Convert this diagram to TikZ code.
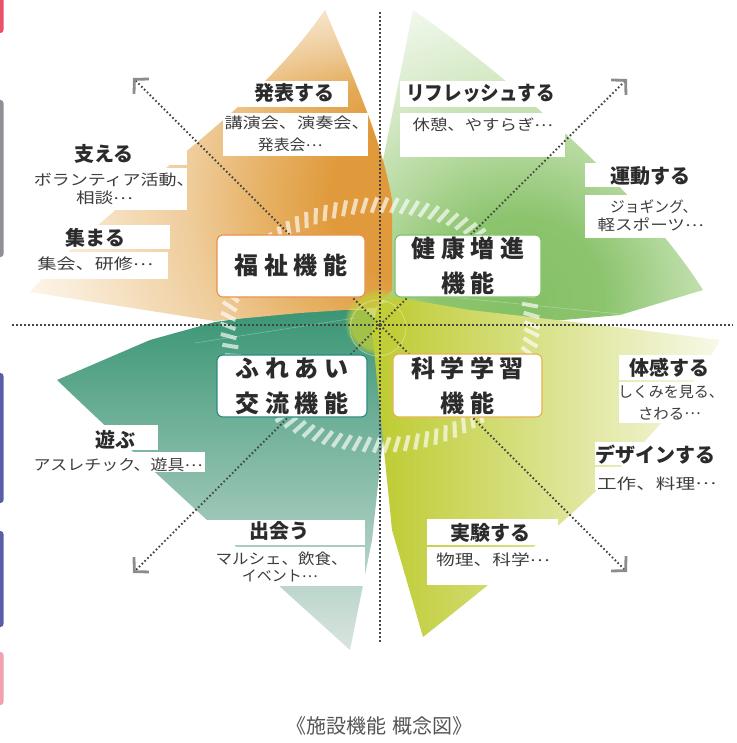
\documentclass[tikz,border=0pt]{standalone}
\usepackage{fontspec}
\usepackage{graphicx}
\setmainfont{Noto Sans CJK JP}
\usetikzlibrary{arrows.meta,decorations.markings,fadings}

\definecolor{or1}{HTML}{E09A3C}
\definecolor{or2}{HTML}{E6B062}
\definecolor{or3}{HTML}{EFCD9C}
\definecolor{or4}{HTML}{F7E5CA}
\definecolor{or5}{HTML}{FDF7EE}
\definecolor{gr1}{HTML}{84C066}
\definecolor{gr2}{HTML}{8CC46E}
\definecolor{gr3}{HTML}{B3D89C}
\definecolor{gr4}{HTML}{D5E9C6}
\definecolor{gr5}{HTML}{F1F8EC}
\definecolor{tl1}{HTML}{3A9675}
\definecolor{tl2}{HTML}{86B8A3}
\definecolor{tl3}{HTML}{DCE6E1}
\definecolor{yl1}{HTML}{BDCB2E}
\definecolor{yl2}{HTML}{D6DE78}
\definecolor{yl3}{HTML}{F8F9EA}
\definecolor{ygc}{HTML}{C2CF38}
\definecolor{bdor}{HTML}{E9904A}
\definecolor{bdgr}{HTML}{7DC26A}
\definecolor{bdtl}{HTML}{2A8B7B}
\definecolor{bdyl}{HTML}{E7B24E}
\definecolor{txt}{HTML}{2B2B2B}
\definecolor{subtxt}{HTML}{3D3D3D}
\definecolor{axisc}{HTML}{444444}
\definecolor{arrowgray}{HTML}{8C8C8C}
\definecolor{titletxt}{HTML}{555555}
\definecolor{barred}{HTML}{E8526A}
\definecolor{bargray}{HTML}{8F9096}
\definecolor{barblue}{HTML}{5A5EA8}
\definecolor{barpink}{HTML}{F3A1B0}

\pgfdeclareradialshading{orrad}{\pgfpointorigin}{color(0bp)=(or1); color(5bp)=(or1); color(9bp)=(or2); color(14bp)=(or3); color(20bp)=(or4); color(25bp)=(or5); color(50bp)=(or5)}
\pgfdeclareradialshading{grrad}{\pgfpointorigin}{color(0bp)=(gr1); color(6bp)=(gr2); color(11bp)=(gr3); color(16bp)=(gr4); color(22bp)=(gr5); color(25bp)=(white); color(50bp)=(white)}

\newcommand{\bxk}{\kern5.5pt}
\newcommand{\hsx}[2]{\scalebox{#1}[1]{#2}}
\newcommand{\cdts}{\raisebox{0.3em}[0.75em][0.1em]{…}}

\begin{document}
\begin{tikzpicture}[x=1pt,y=-1pt,
  fbox/.style={draw, line width=1.1pt, fill=white, rounded corners=6pt, inner sep=0pt, align=center, text=txt, font=\fontsize{24pt}{35pt}\selectfont\bfseries},
  hd/.style={anchor=base west, inner sep=0pt, text=txt, font=\fontsize{20pt}{20pt}\selectfont\bfseries},
  sb/.style={anchor=base west, inner sep=0pt, text=subtxt, font=\fontsize{15pt}{15pt}\selectfont},
  axisline/.style={axisc, line width=2pt, dash pattern=on 1.7pt off 2.3pt},
  diagline/.style={axisc, line width=1.9pt, dash pattern=on 1.6pt off 2.4pt, -{Straight Barb[length=10pt, width=21pt, line width=2.8pt, color=arrowgray]}},
  labelbg/.style={fill=white},
  sidebar/.style={rounded corners=3pt}
]
\useasboundingbox (0,0) rectangle (736,743);
\fill[white] (0,0) rectangle (736,743);

% teal petal
\begin{scope}
\clip (57,380) -- (150,340) -- (215,322) -- (300,310) -- (365,310) -- (388,330) -- (385,420) -- (372,540) -- (350,650) .. controls (250,560) and (130,450) .. cycle;
\shade[top color=tl1, middle color=tl2, bottom color=tl3] (40,310) rectangle (400,655);
\end{scope}
% green petal
\begin{scope}
\clip (413,10) .. controls (500,70) and (640,190) .. (703,290) -- (620,315) -- (540,322) -- (420,318) -- (383,300) -- (383,160) -- cycle;
\shade[shading=grrad] (520,300) circle [radius=350pt];
\end{scope}
% orange petal
\begin{scope}
\clip (325,10) .. controls (345,60) and (380,130) .. (392,200) -- (392,290) -- (375,308) -- (300,313) -- (215,321) -- (30,292) .. controls (120,190) and (250,120) .. cycle;
\shade[shading=orrad] (410,200) circle [radius=400pt];
\fill[white, path fading=south, opacity=0.6] (180,0) rectangle (420,90);
\end{scope}
% yellow petal
\begin{scope}
\clip (720,340) .. controls (660,450) and (520,560) .. (423,637) -- (392,530) -- (383,440) -- (372,330) -- (378,305) -- (400,298) -- (470,310) -- (600,325) -- cycle;
\shade[left color=yl1, middle color=yl2, right color=yl3] (370,295) rectangle (722,640);
\end{scope}
% centre glow
\fill[ygc, opacity=0.75, path fading=circle with fuzzy edge 20 percent] (378,322) circle [radius=34pt];
\draw[white, opacity=0.45, line width=0.6pt] (378,328) circle [radius=28pt];
\draw[white, opacity=0.3, line width=0.6pt] (195,343) -- (355,318);
\draw[white, opacity=0.3, line width=0.6pt] (400,292) -- (700,322);

% hatched ring
\path[decoration={markings, mark=between positions 0 and 1 step 10pt with {\draw[white, opacity=0.65, line width=4pt] (-3pt,-7.5pt) -- (3pt,7.5pt);}}, decorate] (380,325) ellipse [x radius=152pt, y radius=120pt];

% label backgrounds
\fill[labelbg] (223,81) rectangle (348,107);
\fill[labelbg] (223,113) rectangle (368,156);
\fill[labelbg] (20,140) rectangle (187,165);
\fill[labelbg] (20,168) rectangle (187,210);
\fill[labelbg] (20,225) rectangle (170,249);
\fill[labelbg] (20,252) rectangle (168,279);
\fill[labelbg] (400,81) rectangle (562,107);
\fill[labelbg] (400,113) rectangle (565,157);
\fill[labelbg] (585,163) rectangle (722,187);
\fill[labelbg] (585,195) rectangle (722,238);
\fill[labelbg] (619,355) rectangle (723,380);
\fill[labelbg] (619,382) rectangle (723,423);
\fill[labelbg] (595,442) rectangle (725,465);
\fill[labelbg] (595,467) rectangle (725,490);
\fill[labelbg] (78,425) rectangle (158,450);
\fill[labelbg] (30,452) rectangle (205,472);
\fill[labelbg] (195,520) rectangle (365,545);
\fill[labelbg] (210,547) rectangle (365,586);
\fill[labelbg] (427,519) rectangle (558,545);
\fill[labelbg] (427,547) rectangle (556,585);

% axes and diagonals
\coordinate (ctr) at (380,325);
\coordinate (axT) at (380,12);
\coordinate (axB) at (380,642);
\coordinate (axL) at (12,325);
\coordinate (axR) at (733,325);
\coordinate (cUL) at (133,78);
\coordinate (cUR) at (627,79);
\coordinate (cLL) at (133,573);
\coordinate (cLR) at (627,572);
\draw[axisline] (axT) -- (axB);
\draw[axisline] (axL) -- (axR);
\draw[diagline] (ctr) -- (cUL);
\draw[diagline] (ctr) -- (cUR);
\draw[diagline] (ctr) -- (cLL);
\draw[diagline] (ctr) -- (cLR);

% function boxes
\node[fbox, draw=bdor, minimum width=148pt, minimum height=62pt] (fuku) at (291,266) {\raisebox{3pt}{福\bxk 祉\bxk 機\bxk 能}};
\node[fbox, draw=bdgr, minimum width=146pt, minimum height=62pt] (kenko) at (468,266) {健\bxk 康\bxk 増\bxk 進\\機\bxk 能};
\node[fbox, draw=bdtl, minimum width=150pt, minimum height=62pt] (fureai) at (292,386) {ふ\bxk れ\bxk あ\bxk い\\交\bxk 流\bxk 機\bxk 能};
\node[fbox, draw=bdyl, minimum width=149pt, minimum height=63pt] (kagaku) at (467.5,385.5) {科\bxk 学\bxk 学\bxk 習\\機\bxk 能};

% labels
\node[hd] (h1) at (254,100.5) {発表する};
\node[sb] (s1a) at (224.3,129) {\hsx{1.21}{講演会、演奏会、}};
\node[sb] (s1b) at (257.7,150.6) {\hsx{1.06}{発表会\cdts}};

\node[hd] (h2) at (74,162) {支える};
\node[sb] (s2a) at (33.6,185.7) {\hsx{1.2}{ボランティア活動、}};
\node[sb] (s2b) at (75.8,204) {\hsx{1.24}{相談\cdts}};

\node[hd] (h3) at (65.7,245.3) {集まる};
\node[sb] (s3a) at (37.4,269.6) {\hsx{1.27}{集会、研修\cdts}};

\node[hd] (h4) at (406,100.3) {\hsx{0.93}{リフレッシュする}};
\node[sb] (s4a) at (412.4,130.6) {\hsx{1.16}{休憩、やすらぎ\cdts}};

\node[hd] (h5) at (610.7,183.6) {運動する};
\node[sb] (s5a) at (610,212) {\hsx{0.98}{ジョギング、}};
\node[sb] (s5b) at (597.4,230.6) {\hsx{1.17}{軽スポーツ\cdts}};

\node[hd] (h6) at (629,375.3) {体感する};
\node[sb] (s6a) at (618,397.3) {しくみを見る、};
\node[sb] (s6b) at (637.8,419) {\hsx{1.03}{さわる\cdts}};

\node[hd] (h7) at (595,462) {デザインする};
\node[sb] (s7a) at (596.8,489) {\hsx{1.31}{工作、料理\cdts}};

\node[hd] (h8) at (95.7,447) {遊ぶ};
\node[sb] (s8a) at (33.3,470.7) {\hsx{1.13}{アスレチック、遊具\cdts}};

\node[hd] (h9) at (249.7,538.6) {出会う};
\node[sb] (s9a) at (215.4,564.3) {\hsx{1.1}{マルシェ、飲食、}};
\node[sb] (s9b) at (241.6,581.8) {イベント\cdts};

\node[hd] (h10) at (450.7,540.3) {実験する};
\node[sb] (s10a) at (435.8,565.6) {\hsx{1.25}{物理、科学\cdts}};

% title
\node[anchor=base, inner sep=0pt, text=titletxt, font=\fontsize{20pt}{20pt}\selectfont] (title) at (379,733.5) {《施設機能\hspace{6pt}概念図》};

% side bars (cropped)
\fill[barred, sidebar] (-10,-10) rectangle (3.5,33);
\fill[bargray, sidebar] (-10,100) rectangle (3.5,257);
\fill[barblue, sidebar] (-10,373) rectangle (3.5,503);
\fill[barblue, sidebar] (-10,531) rectangle (3.5,627);
\fill[barpink, sidebar] (-10,652) rectangle (3.5,705);
\end{tikzpicture}
\end{document}
